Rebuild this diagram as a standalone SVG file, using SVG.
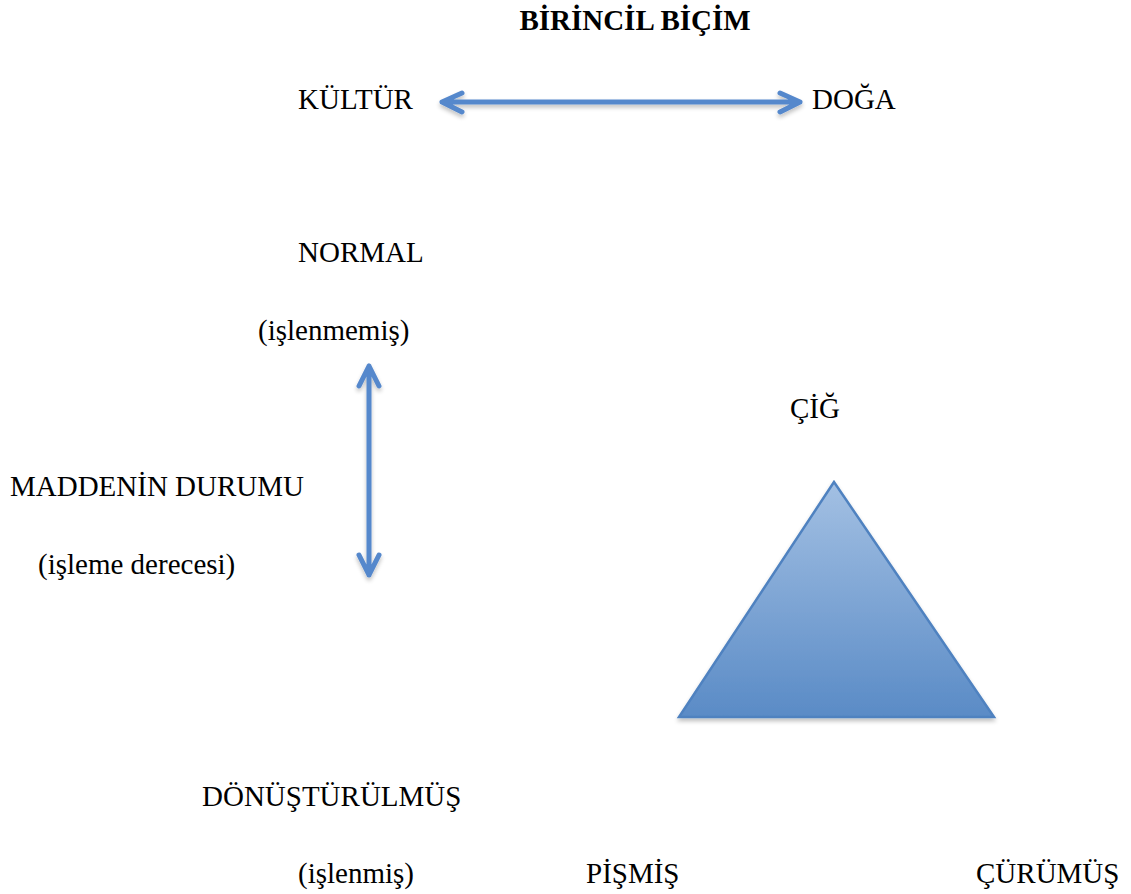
<svg xmlns="http://www.w3.org/2000/svg" width="1131" height="894" viewBox="0 0 1131 894">
<style>
text{font-family:"Liberation Serif","Times New Roman",serif;font-size:29px;fill:#000}
.b{font-weight:bold}
.arr{stroke:#5588cc;stroke-width:5;fill:none;stroke-linecap:round;stroke-linejoin:round}
</style>
<defs>
<linearGradient id="g" x1="0" y1="0" x2="0" y2="1">
<stop offset="0" stop-color="#a3c0e3"/>
<stop offset="1" stop-color="#5a8bc6"/>
</linearGradient>
<filter id="sh" x="-10%" y="-50%" width="120%" height="200%">
<feGaussianBlur in="SourceAlpha" stdDeviation="2"/>
<feOffset dx="0" dy="3"/>
<feComponentTransfer><feFuncA type="linear" slope="0.25"/></feComponentTransfer>
<feMerge><feMergeNode/><feMergeNode in="SourceGraphic"/></feMerge>
</filter>
</defs>
<g id="title"><text class="b" x="635" y="30" text-anchor="middle">BİRİNCİL BİÇİM</text></g>
<g id="kultur"><text x="298" y="109">KÜLTÜR</text></g>
<g id="doga"><text x="812" y="109">DOĞA</text></g>
<g id="normal"><text x="298" y="262">NORMAL</text><text x="258" y="340">(işlenmemiş)</text></g>
<g id="madde"><text x="10" y="496">MADDENİN DURUMU</text><text x="38" y="574">(işleme derecesi)</text></g>
<g id="cig"><text x="790" y="418">ÇİĞ</text></g>
<g id="donusturulmus"><text x="202" y="806">DÖNÜŞTÜRÜLMÜŞ</text><text x="298" y="883">(işlenmiş)</text></g>
<g id="pismis"><text x="586" y="883">PİŞMİŞ</text></g>
<g id="curumus"><text x="976" y="883">ÇÜRÜMÜŞ</text></g>
<g id="triangle"><polygon points="834,482 679,717 994,717" fill="url(#g)" stroke="#4f82c0" stroke-width="2.5" stroke-linejoin="miter" filter="url(#sh)"/></g>
<g id="connectors" filter="url(#sh)">
<path class="arr" d="M442,102 H800 M462,93 L442,102 L462,112 M780,93 L800,102 L780,112"/>
<path class="arr" d="M369,366 V575 M359,386 L369,366 L379,386 M359,555 L369,575 L379,555"/>
</g>
</svg>
